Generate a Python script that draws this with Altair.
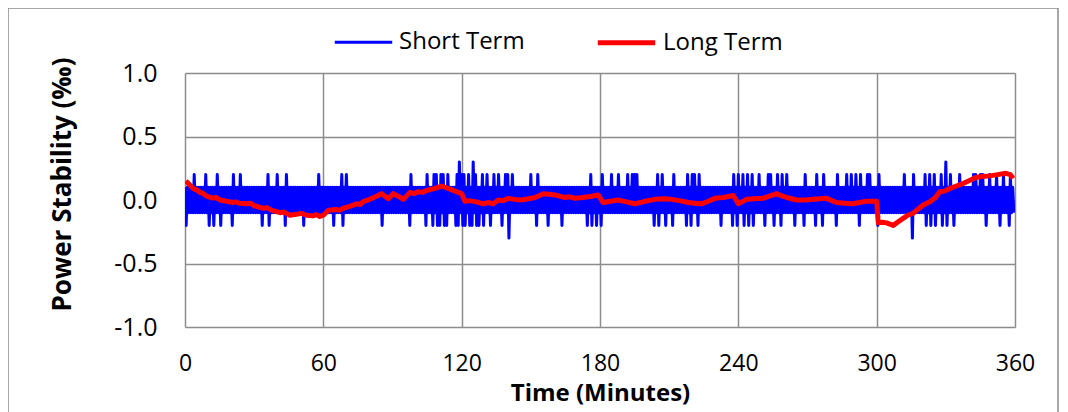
import altair as alt
import pandas as pd

# ---------------- data ----------------
# Short term: band alternating between +0.1 and -0.1 every half minute,
# with spikes (minutes)
short_step = 0.5
short_end = 359.5
short_base_hi = 0.1
short_base_lo = -0.1
up_02 = [3.9, 9.4, 13.7, 20.8, 24.4, 36.4, 39.6, 43.7, 57.8, 67.9, 70.5, 98.5, 105, 108,
         109.5, 111, 112.5, 114, 117.8, 120, 121.5, 123, 126.5, 129.4, 130.9, 134.5, 135.9,
         138.8, 140.2, 141.7, 149.6, 153, 176.4, 181.4, 185.1, 188.2, 192.3, 194.4, 195.5,
         196.5, 204.6, 207.4, 212.5, 218.2, 220, 221.5, 223.2, 237.8, 240, 242.1, 244.3,
         246.5, 248.6, 252.9, 254.4, 256.6, 258.7, 260.9, 268.9, 274, 276.8, 282.6, 287,
         289.1, 291.3, 293.5, 295.6, 297.1, 301.1, 312.2, 315.6, 320.9, 323.1, 325.3, 327.7,
         331.7, 336.1, 341.7, 343, 344.8, 346.5, 349.1, 352, 354.7, 357.8]
up_03 = [118.8, 124.9, 329.6]
down_02 = [0.4, 10.5, 12.3, 15.9, 20.8, 33.7, 36.9, 43.7, 52, 64.6, 68.7, 85.3, 97.6, 105,
           108, 109.5, 111, 112.5, 114, 117.5, 119, 120.5, 122, 123.5, 125, 126.5, 127.9,
           129.4, 133, 137.3, 152.5, 157.6, 163.4, 174.2, 176.4, 178.5, 180.7, 203.8, 205.2,
           208.2, 211.8, 218, 220, 222.5, 232.7, 237.8, 240, 242.1, 244.3, 246.5, 251.5,
           255.1, 258.7, 264.5, 268.9, 274, 276.8, 282.6, 292.7, 300.6, 321.6, 323.8, 326,
           328.8, 331, 333.2, 347.9, 353.4, 357.5]
down_03 = [140.9, 315.6]

# Long term (minutes, per mille)
long_t = [0.4, 2.0, 3.6, 5.0, 6.5, 8.0, 9.4, 12.0, 13.5, 15.2, 18.0, 20.8, 22.0, 23.5, 26.7,
          28.5, 30.0, 34.0, 35.5, 37.5, 41.2, 43.0, 45.5, 49.0, 50.5, 52.8, 55.5, 57.0, 58.5,
          60.0, 62.2, 65.5, 67.0, 68.7, 71.5, 74.4, 76.0, 77.5, 80.2, 83.0, 85.3, 88.2, 90.3,
          92.5, 94.7, 97.6, 99.5, 101.0, 103.0, 104.8, 108.0, 111.3, 113.0, 114.9, 118.5,
          120.0, 121.4, 123.5, 125.8, 127.5, 129.4, 131.5, 133.7, 135.9, 138.0, 140.2, 143.0,
          146.0, 149.0, 151.8, 155.4, 158.0, 160.4, 162.5, 164.8, 167.0, 169.1, 172.5, 176.4,
          179.2, 181.4, 184.5, 187.9, 191.5, 195.1, 197.5, 199.5, 203.8, 207.5, 211.0, 214.5,
          218.3, 221.0, 224.0, 227.0, 229.8, 233.5, 237.8, 240.0, 243.6, 247.0, 250.8, 253.5,
          256.6, 258.5, 261.0, 265.3, 269.0, 272.5, 275.5, 278.3, 282.6, 286.0, 289.8, 292.5,
          295.6, 298.0, 300.0, 300.7, 302.5, 304.3, 307.2, 309.5, 311.5, 313.5, 315.8, 318.0,
          320.2, 323.1, 325.5, 327.4, 329.5, 331.7, 334.5, 337.5, 340.5, 343.3, 346.0, 349.1,
          352.5, 356.0, 358.0, 359.2]
long_v = [0.15, 0.12, 0.09, 0.08, 0.06, 0.05, 0.03, 0.015, 0.02, 0.0, -0.01, -0.02, -0.015,
          -0.025, -0.03, -0.025, -0.045, -0.065, -0.06, -0.08, -0.10, -0.095, -0.12, -0.11,
          -0.105, -0.12, -0.125, -0.115, -0.13, -0.12, -0.08, -0.075, -0.08, -0.065, -0.05,
          -0.03, -0.035, -0.01, 0.005, 0.03, 0.05, 0.01, 0.05, 0.03, 0.005, 0.06, 0.05, 0.065,
          0.06, 0.075, 0.09, 0.11, 0.1, 0.085, 0.06, 0.05, -0.01, -0.005, -0.013, -0.02, -0.03,
          -0.02, -0.03, 0.0, -0.005, 0.013, 0.005, 0.0, 0.01, 0.02, 0.05, 0.045, 0.04, 0.03,
          0.02, 0.025, 0.013, 0.02, 0.03, 0.04, -0.02, -0.01, 0.0, -0.015, -0.03, -0.02, -0.01,
          0.005, 0.01, 0.005, -0.005, -0.02, -0.025, -0.03, -0.01, 0.013, 0.02, 0.035, -0.03,
          0.005, 0.01, 0.013, 0.03, 0.05, 0.035, 0.02, 0.0, 0.0, 0.005, 0.01, 0.013, -0.02,
          -0.025, -0.03, -0.02, -0.01, -0.01, -0.01, -0.18, -0.175, -0.18, -0.20, -0.17,
          -0.145, -0.12, -0.105, -0.07, -0.04, -0.013, 0.02, 0.065, 0.07, 0.09, 0.11, 0.13,
          0.155, 0.18, 0.185, 0.19, 0.2, 0.21, 0.2, 0.17]

series_names = ["Short Term", "Long Term"]
series_colors = ["#0000ff", "#ff0000"]
x_ticks = [0, 60, 120, 180, 240, 300, 360]
y_ticks = [-1.0, -0.5, 0.0, 0.5, 1.0]

# ---------------- build tables ----------------
n = int(round(short_end / short_step)) + 1
st_t = [i * short_step for i in range(n)]
st_v = [short_base_hi if i % 2 == 0 else short_base_lo for i in range(n)]


def put(times, val, parity):
    for t in times:
        i = int(round(t / short_step))
        if i % 2 != parity:
            i = i + 1 if (t / short_step) > i else i - 1
        i = max(0, min(n - 1, i))
        if abs(st_v[i]) <= abs(val):
            st_v[i] = val


put(up_02, 0.2, 0)
put(up_03, 0.3, 0)
put(down_02, -0.2, 1)
put(down_03, -0.3, 1)

short_df = pd.DataFrame({"t": st_t, "v": st_v, "s": "Short Term", "o": range(n)})
long_df = pd.DataFrame({"t": long_t, "v": long_v, "s": "Long Term", "o": range(len(long_t))})
df = pd.concat([short_df, long_df], ignore_index=True)

FONT = "Open Sans"

color = alt.Color(
    "s:N",
    scale=alt.Scale(domain=series_names, range=series_colors),
    legend=alt.Legend(
        title=None, orient="none", direction="horizontal", legendX=148, legendY=-62,
        symbolType="stroke", symbolSize=3300, labelFontSize=24, labelFont=FONT,
        labelColor="#000000", columnPadding=62, labelOffset=5,
    ),
)
sw = alt.StrokeWidth(
    "s:N",
    scale=alt.Scale(domain=series_names, range=[3, 5]),
    legend=None,
)

x = alt.X(
    "t:Q",
    scale=alt.Scale(domain=[0, 360], nice=False, zero=False),
    axis=alt.Axis(
        values=x_ticks, title="Time (Minutes)", ticks=False, domain=False,
        labelPadding=25, labelFontSize=23, labelFont=FONT, labelColor="#000000",
        labelFlush=False,
        titleFontSize=24, titleFont=FONT, titleFontWeight="bold", titleColor="#000000",
        titleY=66, titleBaseline="middle", titleX=415,
        grid=True, gridColor="#8c8c8c", gridWidth=1.5,
    ),
)
y = alt.Y(
    "v:Q",
    scale=alt.Scale(domain=[-1, 1], nice=False),
    axis=alt.Axis(
        values=y_ticks, title="Power Stability (‰)", ticks=False, domain=False,
        labelExpr="replace(format(datum.value, '.1f'), '\u2212', '-')",
        labelPadding=28, labelFontSize=25, labelFont=FONT, labelColor="#000000",
        titleFontSize=26, titleFont=FONT, titleFontWeight="bold", titleColor="#000000",
        titleX=-123, titleY=111, titleBaseline="middle", titleAngle=-90,
        grid=True, gridColor="#8c8c8c", gridWidth=1.5,
    ),
)

lines = alt.Chart(df).mark_line(clip=True, strokeJoin="round").encode(
    x=x, y=y, color=color, strokeWidth=sw, order="o:Q",
    detail="s:N",
)

border = alt.Chart(pd.DataFrame({"a": [0]})).mark_rect(
    fill=None, stroke="#8c8c8c", strokeWidth=1.5, clip=False
).encode(
    x=alt.value(-177), x2=alt.value(873), y=alt.value(-65), y2=alt.value(380),
)

chart = alt.layer(border, lines).properties(
    width=830, height=254,
    autosize=alt.AutoSizeParams(type="none"),
    padding={"left": 177, "top": 65, "right": 45, "bottom": 85},
).configure_view(
    stroke="#8c8c8c", strokeWidth=1.5
).configure(background="white")

chart.save("out.html", embed_options={"renderer": "svg", "actions": False})
